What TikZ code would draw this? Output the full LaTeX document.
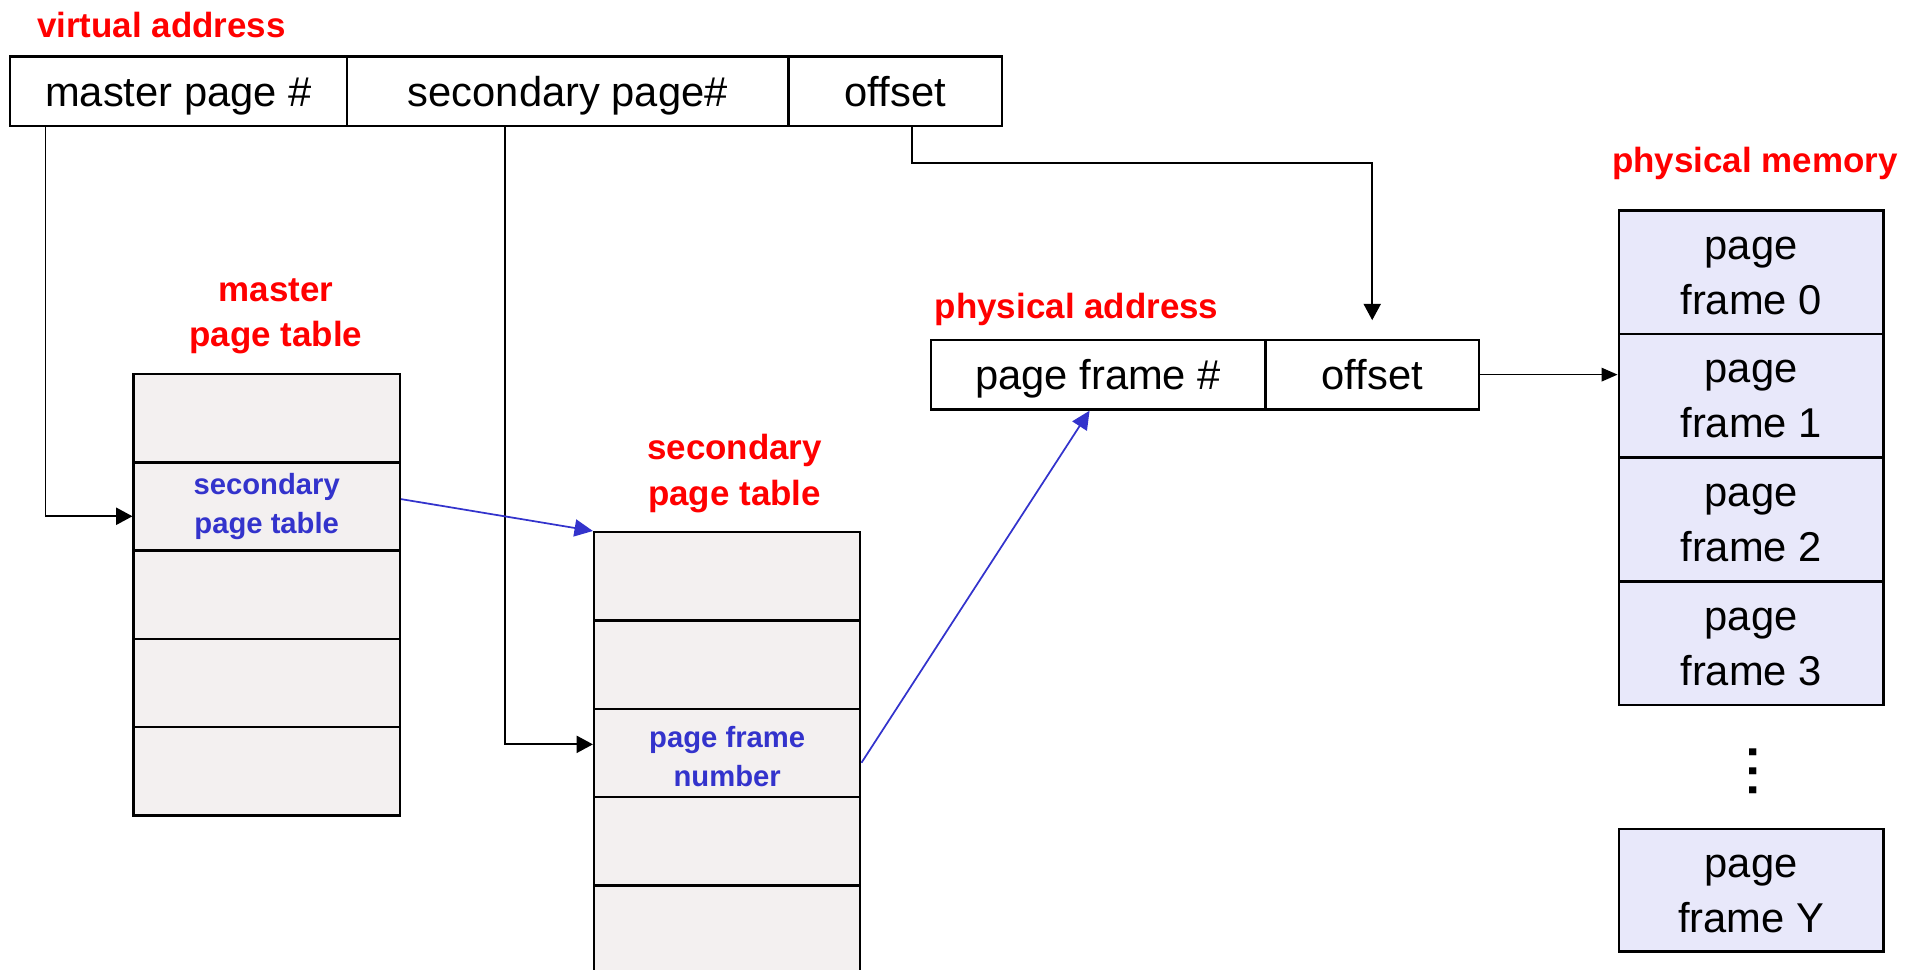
\documentclass[tikz,border=0pt]{standalone}
\usepackage{fontspec}
\setmainfont{Liberation Sans}
\usetikzlibrary{arrows.meta,calc}
\definecolor{lbred}{HTML}{FF0000}
\definecolor{lbblue}{HTML}{3333CC}
\definecolor{tblgray}{HTML}{F3F0F0}
\definecolor{memfill}{HTML}{E8E8FA}
\def\pxu{0.6pt}
\begin{document}
\begin{tikzpicture}[x=0.6pt,y=-0.6pt,
  vabox/.style={draw, line width=1.1pt, minimum height=57*\pxu, inner sep=0,
    text height=14.6pt, text depth=0pt,
    font=\fontsize{20.4}{24}\selectfont},
  cell/.style={draw, fill=tblgray, line width=1.2pt, minimum width=217*\pxu,
    minimum height=72*\pxu, inner sep=0, align=center, text=lbblue,
    font=\bfseries\fontsize{14.3}{19.2}\selectfont},
  memcell/.style={draw, fill=memfill, line width=1.1pt, minimum width=216*\pxu,
    minimum height=100.75*\pxu, inner sep=0, align=center,
    text height=41.6pt, text depth=0pt,
    font=\fontsize{20.4}{27}\selectfont},
  title/.style={text=lbred, inner sep=0, align=center,
    font=\bfseries\fontsize{17.1}{22.4}\selectfont},
  arr/.style={draw=black, line width=0.85pt, -{Triangle[length=8pt,width=8.4pt]}},
  marr/.style={draw=black, line width=0.85pt, -{Triangle[length=7.8pt,width=6.6pt]}},
  barr/.style={draw=lbblue, line width=0.85pt, -{Triangle[length=9pt,width=8.4pt]}}
]
\useasboundingbox (0,0) rectangle (1560,790.2);

% virtual address
\node[title, anchor=west] (lva) at (30,20) {virtual address};
\node[vabox, minimum width=275*\pxu] (va1) at (145.5,74.5) {master page \#};
\node[vabox, minimum width=360*\pxu] (va2) at (463,74.5) {secondary page\#};
\node[vabox, minimum width=174*\pxu] (va3) at (730,74.5) {offset};

% master page table
\node[title] (lmpt) at (225,258) {master\\page table};
\node[cell] (m1) at (217.5,341) {};
\node[cell] (m2) at (217.5,413) {secondary\\page table};
\node[cell] (m3) at (217.5,485) {};
\node[cell] (m4) at (217.5,557) {};
\node[cell] (m5) at (217.5,629) {};

% secondary page table
\node[title] (lspt) at (599,386) {secondary\\page table};
\node[cell] (s1) at (593,470) {};
\node[cell] (s2) at (593,542) {};
\node[cell, text height=33pt, text depth=0pt] (s3) at (593,614) {page frame\\number};
\node[cell] (s4) at (593,686) {};
\node[cell] (s5) at (593,758) {};

% physical address
\node[title, anchor=west] (lpa) at (762,252) {physical address};
\node[vabox, minimum width=273*\pxu] (pa1) at (895.5,305.5) {page frame \#};
\node[vabox, minimum width=174*\pxu] (pa2) at (1119,305.5) {offset};

% physical memory
\node[title] (lpm) at (1431,133) {physical memory};
\node[memcell] (mem0) at (1428,222) {page\\frame 0};
\node[memcell] (mem1) at (1428,322.5) {page\\frame 1};
\node[memcell] (mem2) at (1428,423.5) {page\\frame 2};
\node[memcell] (mem3) at (1428,524.5) {page\\frame 3};
\node[inner sep=0, rotate=-90, font=\bfseries\fontsize{24}{24}\selectfont] (dots) at (1430,629) {.\kern2.6pt.\kern2.6pt.};
\node[memcell, minimum height=100*\pxu] (memY) at (1428,726) {page\\frame Y};

% connectors
\draw[arr] ([xshift=30*\pxu]va1.south west) |- ([yshift=-8*\pxu]m2.west);
\draw[arr] ([xshift=130*\pxu]va2.south west) |- ([yshift=7*\pxu]s3.west);
\draw[arr] ([xshift=14*\pxu]va3.south) -- ++(0,29) -| ([yshift=15*\pxu]pa2.north);
\draw[marr] (pa2.east) -- (pa2.east -| mem1.west);
\draw[barr] ([yshift=6*\pxu]m2.east) -- (s1.north west);
\draw[barr] ([yshift=-8*\pxu]s3.east) -- ([xshift=-7*\pxu]pa1.south);
\end{tikzpicture}
\end{document}
